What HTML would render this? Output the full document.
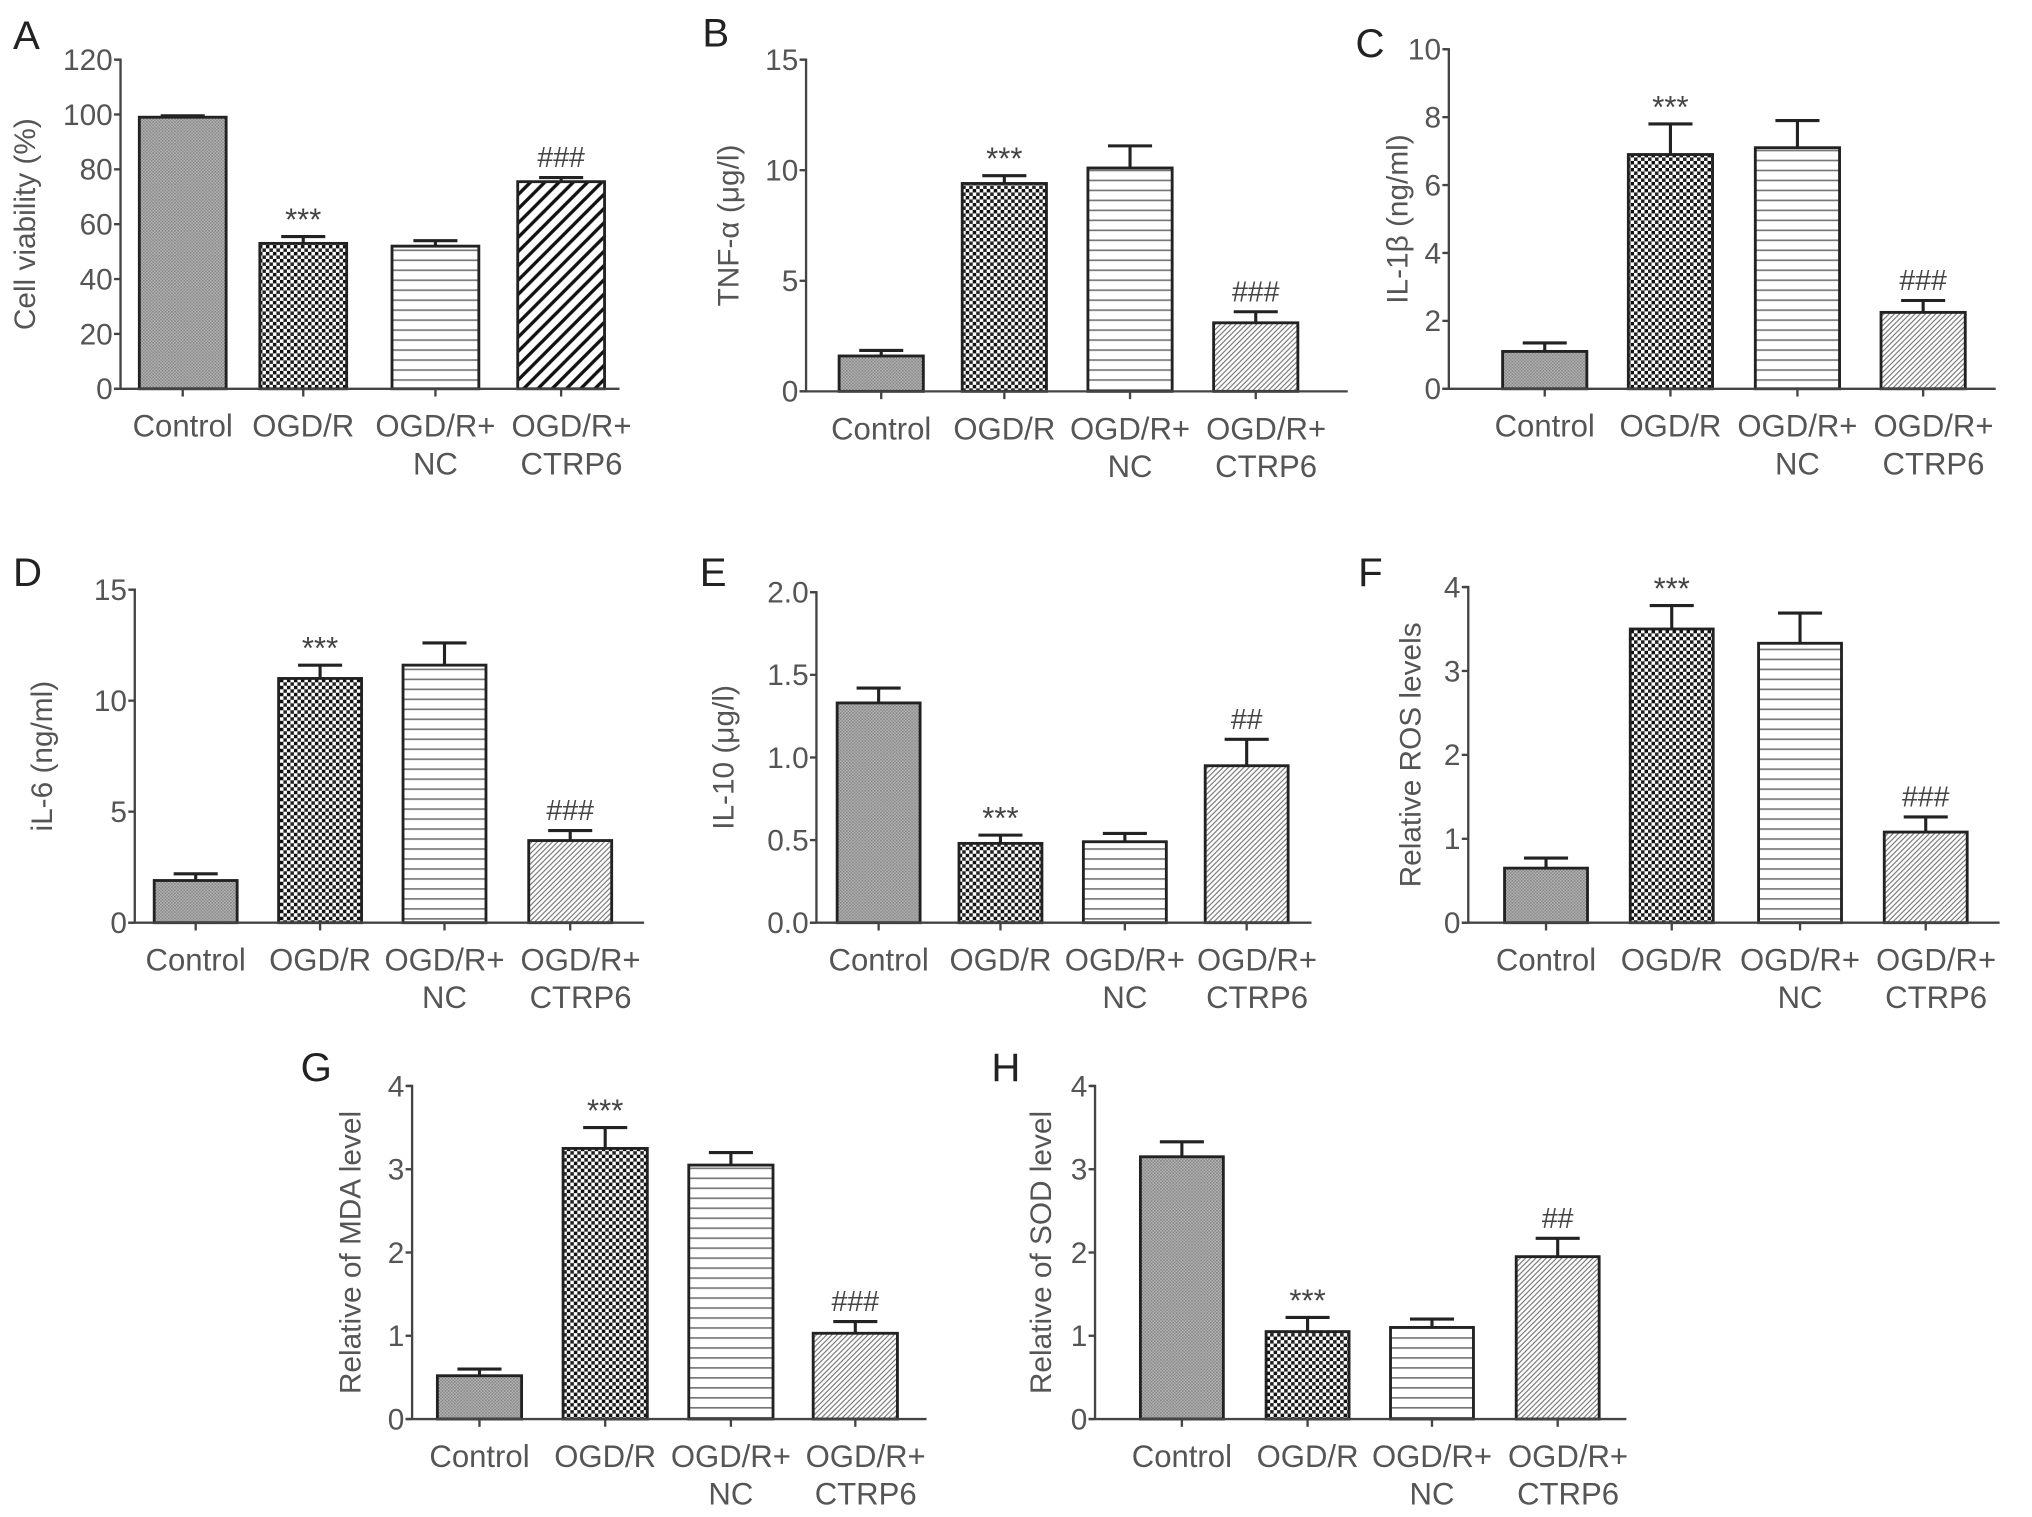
<!DOCTYPE html>
<html><head><meta charset="utf-8"><style>
html,body{margin:0;padding:0;background:#fff;}
svg{display:block;font-family:"Liberation Sans",sans-serif;}
</style></head><body>
<svg id="fig" width="2032" height="1517" viewBox="0 0 1568 1170.6" xmlns="http://www.w3.org/2000/svg">
<defs>
<pattern id="pCtrl" width="2.4" height="2.4" patternUnits="userSpaceOnUse">
<rect width="2.4" height="2.4" fill="#b8b8b8"/><rect width="1.2" height="1.2" fill="#808080"/><rect x="1.2" y="1.2" width="1.2" height="1.2" fill="#888"/>
</pattern>
<pattern id="pOgd" width="5.4" height="5.4" patternUnits="userSpaceOnUse">
<rect width="5.4" height="5.4" fill="#fff"/><rect width="2.7" height="2.7" fill="#111"/><rect x="2.7" y="2.7" width="2.7" height="2.7" fill="#222"/>
</pattern>
<pattern id="pNc" width="8" height="7.7" patternUnits="userSpaceOnUse">
<rect width="8" height="7.7" fill="#fff"/><rect y="0" width="8" height="1.3" fill="#777"/>
</pattern>
<pattern id="pCt" width="4" height="4" patternUnits="userSpaceOnUse">
<rect width="4" height="4" fill="#fff"/><path d="M-1,1 l2,-2 M0,4 l4,-4 M3,5 l2,-2" stroke="#777" stroke-width="0.9"/>
</pattern>
<pattern id="pCtA" width="11" height="11" patternUnits="userSpaceOnUse">
<rect width="11" height="11" fill="#fff"/><path d="M-2,2 l4,-4 M0,11 l11,-11 M9,13 l4,-4" stroke="#111" stroke-width="2.6"/>
</pattern>
</defs>
<g id="root"></g>
</svg>
<script>
const categories = ["Control", "OGD/R", "OGD/R+|NC", "OGD/R+|CTRP6"];
const aVals = [99, 53, 52, 75.5];
const aErr = [0.5, 2.5, 2, 1.5];
const aTicks = [0, 20, 40, 60, 80, 100, 120];
const bVals = [1.6, 9.4, 10.1, 3.1];
const bErr = [0.25, 0.35, 1.0, 0.5];
const bTicks = [0, 5, 10, 15];
const cVals = [1.1, 6.9, 7.1, 2.25];
const cErr = [0.25, 0.9, 0.8, 0.35];
const cTicks = [0, 2, 4, 6, 8, 10];
const dVals = [1.9, 11.0, 11.6, 3.7];
const dErr = [0.3, 0.6, 1.0, 0.45];
const dTicks = [0, 5, 10, 15];
const eVals = [1.33, 0.48, 0.49, 0.95];
const eErr = [0.09, 0.05, 0.05, 0.16];
const eTicks = ["0.0", "0.5", "1.0", "1.5", "2.0"];
const fVals = [0.65, 3.5, 3.33, 1.08];
const fErr = [0.12, 0.28, 0.36, 0.18];
const fTicks = [0, 1, 2, 3, 4];
const gVals = [0.52, 3.25, 3.05, 1.03];
const gErr = [0.08, 0.25, 0.15, 0.14];
const gTicks = [0, 1, 2, 3, 4];
const hVals = [3.15, 1.05, 1.1, 1.95];
const hErr = [0.18, 0.17, 0.1, 0.22];
const hTicks = [0, 1, 2, 3, 4];
const annotations = ["", "***", "", "###"];
const annotationsEH = ["", "***", "", "##"];

const panels = [
 {id:"a",letter:"A",lx:10,ly:38,ax:93,y0:300,yt:46,xe:478,c:[141,234,336,433],bw:67,vals:aVals,err:aErr,ticks:aTicks,ylab:"Cell viability (%)",ylx:27,ctA:true,ann:annotations},
 {id:"b",letter:"B",lx:542,ly:36,ax:622,y0:302,yt:46,xe:1040,c:[680,775,872,969],bw:65,vals:bVals,err:bErr,ticks:bTicks,ylab:"TNF-α (μg/l)",ylx:570,ann:annotations},
 {id:"c",letter:"C",lx:1046,ly:44,ax:1118,y0:300,yt:38,xe:1540,c:[1192,1289,1387,1484],bw:65,vals:cVals,err:cErr,ticks:cTicks,ylab:"IL-1β (ng/ml)",ylx:1086,ann:annotations},
 {id:"d",letter:"D",lx:10,ly:452,ax:104,y0:712,yt:455,xe:497,c:[151,247,343,440],bw:64,vals:dVals,err:dErr,ticks:dTicks,ylab:"iL-6 (ng/ml)",ylx:40,ann:annotations},
 {id:"e",letter:"E",lx:540,ly:452,ax:630,y0:712,yt:457,xe:1012,c:[678,772,868,962],bw:64,vals:eVals,err:eErr,ticks:eTicks,ylab:"IL-10 (μg/l)",ylx:566,ann:annotationsEH},
 {id:"f",letter:"F",lx:1048,ly:452,ax:1133,y0:712,yt:453,xe:1543,c:[1193,1290,1389,1486],bw:64,vals:fVals,err:fErr,ticks:fTicks,ylab:"Relative ROS levels",ylx:1096,ann:annotations},
 {id:"g",letter:"G",lx:232,ly:834,ax:318,y0:1095,yt:838,xe:715,c:[370,467,564,660],bw:65,vals:gVals,err:gErr,ticks:gTicks,ylab:"Relative of MDA level",ylx:278,ann:annotations},
 {id:"h",letter:"H",lx:765,ly:834,ax:845,y0:1095,yt:838,xe:1255,c:[912,1009,1105,1202],bw:64,vals:hVals,err:hErr,ticks:hTicks,ylab:"Relative of SOD level",ylx:811,ann:annotationsEH}
];
const NS="http://www.w3.org/2000/svg";
const root=document.getElementById("root");
function mk(tag,attrs,parent,txt){const e=document.createElementNS(NS,tag);for(const k in attrs)e.setAttribute(k,attrs[k]);if(txt!==undefined)e.textContent=txt;parent.appendChild(e);return e;}
const TXT="#555", AX="#444";
panels.forEach(p=>{
 const g=mk("g",{},root);
 
 
 const tmax=parseFloat(p.ticks[p.ticks.length-1]);
 const y=v=>p.y0-(v/tmax)*(p.y0-p.yt);
 const lt=mk("text",{x:p.lx,y:p.ly,"font-size":31,fill:"#222"},g,p.letter);
 
 
 p.vals.forEach((v,i)=>{
  const fill=i==0?"url(#pCtrl)":i==1?"url(#pOgd)":i==2?"url(#pNc)":(p.ctA?"url(#pCtA)":"url(#pCt)");
  const top=y(v), ey=y(v+p.err[i]);
  const eb=mk("path",{d:`M${p.c[i]},${top} V${ey} M${p.c[i]-17},${ey} H${p.c[i]+17}`,stroke:"#222","stroke-width":2.4,fill:"none"},g);
  
  
  const r=mk("rect",{x:p.c[i]-p.bw/2,y:top,width:p.bw,height:p.y0-top,fill:fill,stroke:"#222","stroke-width":2.2},g);
  
  
  if(p.ann[i]){
   const t=mk("text",{x:p.c[i],y:ey-(p.ann[i][0]=="*"?5:8),"text-anchor":"middle","font-size":p.ann[i][0]=="*"?24:22,fill:"#444"},g,p.ann[i]);
   
   
  }
 });
 const ya=mk("path",{d:`M${p.ax-4},${p.yt} H${p.ax} V${p.y0}`,stroke:AX,"stroke-width":1.8,fill:"none"},g);
 
 
 const xa=mk("path",{d:`M${p.ax-5},${p.y0} H${p.xe}`,stroke:AX,"stroke-width":1.8,fill:"none"},g);
 
 
 p.ticks.forEach(tk=>{
  const ty=y(parseFloat(tk));
  mk("path",{d:`M${p.ax-5},${ty} H${p.ax}`,stroke:AX,"stroke-width":1.8},g);
  const t=mk("text",{x:p.ax-6,y:ty+8,"text-anchor":"end","font-size":23,fill:TXT},g,String(tk));
  
  
 });
 categories.forEach((c,i)=>{
  mk("path",{d:`M${p.c[i]},${p.y0} V${p.y0+6}`,stroke:AX,"stroke-width":1.8},g);
  const parts=c.split("|");
  parts.forEach((s,j)=>{
   const t=mk("text",{x:p.c[i]+(i==3?8:0),y:p.y0+37+j*29,"text-anchor":"middle","font-size":24,fill:TXT},g,s);
   
   
  });
 });
 const cy=(p.y0+p.yt)/2;
 const yl=mk("text",{x:p.ylx,y:cy,"text-anchor":"middle","font-size":23,fill:TXT,transform:`rotate(-90 ${p.ylx} ${cy})`},g,p.ylab);
 
 
});
</script>
</body></html>
